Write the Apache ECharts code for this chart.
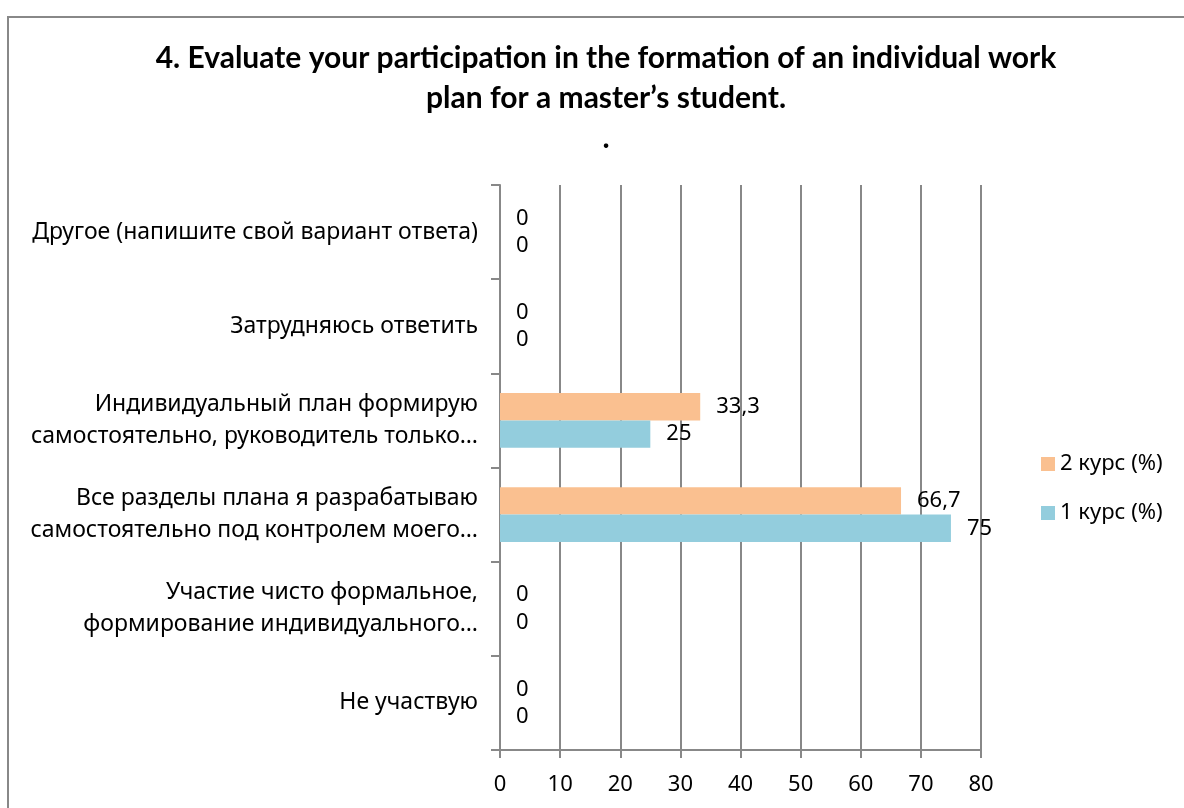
<!DOCTYPE html>
<html><head><meta charset="utf-8">
<script src="https://cdn.jsdelivr.net/npm/echarts@6/dist/echarts.min.js"></script>
<style>html,body{margin:0;padding:0;background:#fff}#c{width:1184px;height:808px}</style>
</head><body><div id="c"></div>
<script>
const categories = [
  'Не участвую',
  'Участие чисто формальное,\nформирование индивидуального…',
  'Все разделы плана я разрабатываю\nсамостоятельно под контролем моего…',
  'Индивидуальный план формирую\nсамостоятельно, руководитель только…',
  'Затрудняюсь ответить',
  'Другое (напишите свой вариант ответа)'
];
const course1 = [0, 0, 75, 25, 0, 0];
const course2 = [0, 0, 66.7, 33.3, 0, 0];
const seriesNames = ['1 курс (%)', '2 курс (%)'];
const xTicks = { min: 0, max: 80, interval: 10 };

const FONT = '"Noto Sans", sans-serif';
const FS = 22;
const chart = echarts.init(document.getElementById('c'));
const lbl = {
  show: true, position: 'right', distance: 16, color: '#000',
  fontFamily: FONT, fontSize: FS,
  formatter: p => String(p.value).replace('.', ',')
};
chart.setOption({
  animation: false,
  graphic: [{ type: 'rect', shape: { x: 8, y: 17, width: 1300, height: 900 },
    style: { fill: 'none', stroke: '#888', lineWidth: 2 }, silent: true }],
  title: {
    text: '4. Evaluate your participation in the formation of an individual work\nplan for a master’s student.\n.',
    left: 601, textAlign: 'center', top: 33,
    textStyle: { fontFamily: 'Lato, "Liberation Sans", sans-serif', fontWeight: 'bold', fontSize: 30, color: '#000', lineHeight: 40 }
  },
  legend: {
    orient: 'vertical', left: 1036, top: 448, itemWidth: 14, itemHeight: 14, itemGap: 27,
    data: [seriesNames[1], seriesNames[0]],
    textStyle: { fontFamily: FONT, fontSize: FS, color: '#000' },
    icon: 'rect'
  },
  grid: { left: 500, right: 203, top: 185, bottom: 58 },
  xAxis: {
    type: 'value', min: xTicks.min, max: xTicks.max, interval: xTicks.interval,
    axisLine: { show: true, lineStyle: { color: '#888', width: 2 } },
    axisTick: { show: true, length: 8, lineStyle: { color: '#888', width: 2 } },
    splitLine: { show: true, lineStyle: { color: '#888', width: 2 } },
    axisLabel: { fontFamily: FONT, fontSize: FS, color: '#000', margin: 24 }
  },
  yAxis: {
    type: 'category', data: categories,
    axisLine: { show: true, lineStyle: { color: '#888', width: 2 } },
    axisTick: { show: true, length: 9, lineStyle: { color: '#888', width: 2 } },
    axisLabel: { fontFamily: FONT, fontSize: 23, color: '#000', margin: 22, lineHeight: 32, align: 'right' }
  },
  series: [
    { name: seriesNames[1], type: 'bar', data: course2, itemStyle: { color: '#FAC090' },
      barGap: '0%', barCategoryGap: '42%', label: lbl },
    { name: seriesNames[0], type: 'bar', data: course1, itemStyle: { color: '#93CDDD' },
      barGap: '0%', barCategoryGap: '42%', label: lbl }
  ]
});
</script></body></html>
